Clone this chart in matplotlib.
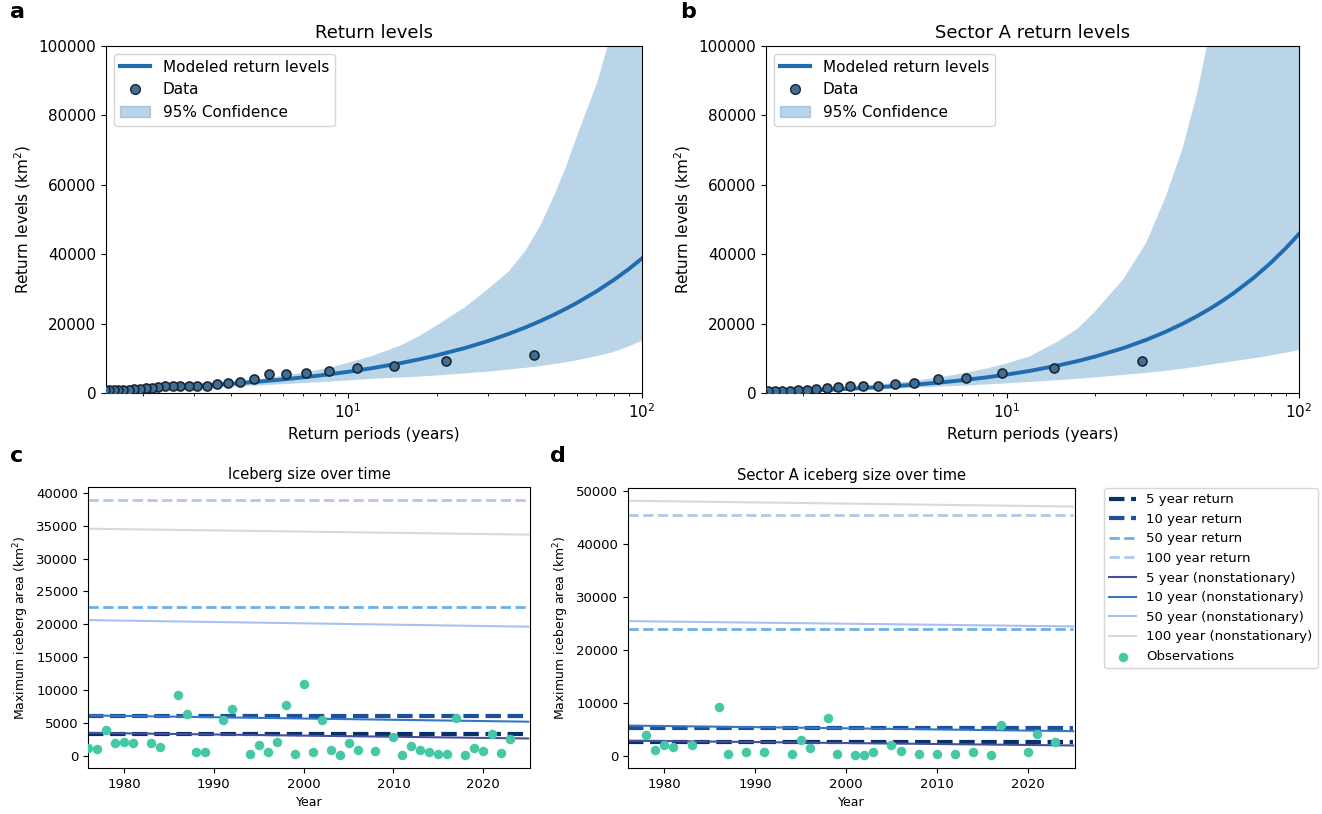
import numpy as np
import matplotlib
matplotlib.use("Agg")
import matplotlib.pyplot as plt
from matplotlib.lines import Line2D
from matplotlib.patches import Patch

# annual maximum iceberg area, all sectors
years_all = [1976, 1977, 1978, 1979, 1980, 1981, 1983, 1984, 1986, 1987, 1988, 1989,
             1991, 1992, 1994, 1995, 1996, 1997, 1998, 1999, 2000, 2001, 2002, 2003,
             2004, 2005, 2006, 2008, 2010, 2011, 2012, 2013, 2014, 2015, 2016, 2017,
             2018, 2019, 2020, 2021, 2022, 2023]
area_all = [1200, 1000, 3900, 2000, 2100, 1900, 2000, 1300, 9200, 6400, 600, 600,
            5400, 7200, 250, 1700, 600, 2100, 7700, 250, 10900, 650, 5400, 900,
            100, 1900, 850, 750, 2900, 100, 1500, 850, 600, 350, 350, 5700,
            100, 1200, 750, 3300, 500, 2500]

# sector A
years_a = [1978, 1979, 1980, 1981, 1983, 1986, 1987, 1989, 1991, 1994, 1995, 1996,
           1998, 1999, 2001, 2002, 2003, 2005, 2006, 2008, 2010, 2012, 2014, 2016,
           2017, 2020, 2021, 2023]
area_a = [3900, 1100, 2000, 1700, 2000, 9200, 400, 700, 700, 300, 2900, 1500,
          7100, 350, 100, 100, 800, 2000, 850, 350, 350, 250, 700, 100,
          5800, 700, 4200, 2600]

# modeled return levels and 95% confidence bounds
T_model = [1.5, 2, 2.5, 3, 4, 5, 6, 7, 8.5, 10, 12, 15, 17.5, 20, 25, 30,
           35, 40, 45, 50, 55, 60, 70, 80, 90, 100]
rl_all = [770, 1220, 1610, 1980, 2670, 3300, 3910, 4490, 5310, 6110, 7120, 8570, 9720, 10840, 12970, 15010,
          16970, 18860, 20710, 22500, 24250, 25960, 29300, 32530, 35660, 38800]
lo_all = [550, 900, 1200, 1500, 1950, 2350, 2700, 3000, 3400, 3800, 4200, 4600, 4900, 5200, 5800, 6300,
          6900, 7400, 7900, 8500, 9000, 9600, 10800, 12000, 13600, 15300]
hi_all = [1000, 1500, 2000, 2450, 3400, 4200, 5100, 6000, 7300, 8900, 10800, 13800, 16700, 19700, 25000, 30300,
          35100, 41200, 48500, 57000, 65500, 74500, 89500, 106500, 123000, 142000]

rl_a = [250, 610, 950, 1280, 1900, 2500, 3080, 3650, 4490, 5310, 6380, 7940, 9210, 10470, 12920, 15310,
        17660, 19970, 22240, 24480, 26700, 28890, 33210, 37490, 41690, 45840]
lo_a = [150, 400, 620, 850, 1200, 1550, 1850, 2100, 2450, 2800, 3200, 3700, 4100, 4500, 5200, 5800,
        6400, 7000, 7600, 8200, 8700, 9200, 10000, 10800, 11600, 12400]
hi_a = [450, 950, 1400, 1900, 2800, 3700, 4600, 5600, 7000, 8500, 10600, 14900, 18600, 23400, 32700, 43300,
        56600, 70600, 87000, 106000, 128000, 150000, 195000, 240000, 290000, 340000]

# stationary / nonstationary return levels (start 1976, end 2025)
rp_names = ["5 year", "10 year", "50 year", "100 year"]
line_years = [1976, 2025]
stat_c = [3350, 6120, 22600, 38950]
ns_c_start = [3500, 6150, 20650, 34550]
ns_c_end = [2650, 5200, 19650, 33650]
stat_d = [2550, 5300, 24000, 45400]
ns_d_start = [2850, 5700, 25400, 48100]
ns_d_end = [1950, 4650, 24400, 47000]

dash_cols = ["#08306b", "#1c4f9c", "#6fb0e4", "#b3c7ea"]
dash_lw = [3, 3, 2, 2]
ns_cols = ["#464f9e", "#3477c4", "#a9c0f2", "#d3dae4"]
obs_col = "#45c8a6"

fig = plt.figure(figsize=(13.22, 8.14), dpi=100)
W, H = 1322, 814


def box(l, t, r, b):
    return [l / W, 1 - b / H, (r - l) / W, (b - t) / H]


def return_panel(ax, areas, rl, lo, hi, title):
    vals = np.sort(np.array(areas))[::-1]
    n = len(vals)
    periods = (n + 1) / np.arange(1, n + 1)
    ax.fill_between(T_model, lo, hi, color="C0", alpha=0.3, lw=0)
    ax.plot(T_model, rl, color="#1f6db0", lw=2.8)
    ax.scatter(periods, vals, s=42, color="#3f6f96", edgecolor="#1a2633", lw=1.2, zorder=3)
    ax.set_xscale("log")
    ax.set_xlim(1.5, 100)
    ax.set_ylim(0, 100000)
    ax.set_title(title, fontsize=13)
    ax.set_xlabel("Return periods (years)", fontsize=11)
    ax.set_ylabel("Return levels (km$^2$)", fontsize=11)
    ax.tick_params(labelsize=11)
    handles = [Line2D([], [], color="#1f6db0", lw=3),
               Line2D([], [], ls="", marker="o", ms=7, mfc="#3f6f96", mec="#1a2633"),
               Patch(color="C0", alpha=0.3)]
    ax.legend(handles, ["Modeled return levels", "Data", "95% Confidence"],
              loc="upper left", fontsize=11)


def time_panel(ax, years, areas, stat, ns0, ns1, title):
    for i in range(4):
        ax.plot(line_years, [stat[i], stat[i]], ls="--", color=dash_cols[i], lw=dash_lw[i],
                label=rp_names[i] + " return")
    for i in range(4):
        ax.plot(line_years, [ns0[i], ns1[i]], color=ns_cols[i], lw=1.5,
                label=rp_names[i] + " (nonstationary)")
    ax.scatter(years, areas, s=34, color=obs_col, marker="o", zorder=4, label="Observations")
    ax.set_xlim(1976, 2025.2)
    ax.set_title(title, fontsize=10.5)
    ax.set_xlabel("Year", fontsize=9)
    ax.set_ylabel("Maximum iceberg area (km$^2$)", fontsize=9)
    ax.tick_params(labelsize=9.5)


ax_a = fig.add_axes(box(106, 46, 642, 393))
return_panel(ax_a, area_all, rl_all, lo_all, hi_all, "Return levels")
ax_b = fig.add_axes(box(766, 46, 1299, 393))
return_panel(ax_b, area_a, rl_a, lo_a, hi_a, "Sector A return levels")

ax_c = fig.add_axes(box(88, 487, 530, 768))
time_panel(ax_c, years_all, area_all, stat_c, ns_c_start, ns_c_end, "Iceberg size over time")
ax_d = fig.add_axes(box(628, 488, 1075, 768))
time_panel(ax_d, years_a, area_a, stat_d, ns_d_start, ns_d_end, "Sector A iceberg size over time")
ax_d.legend(loc="upper left", bbox_to_anchor=(1.065, 1.0), borderaxespad=0, fontsize=9.5)

for lab, x, y in [("a", 10, 2), ("b", 680, 2), ("c", 10, 446), ("d", 550, 446)]:
    fig.text(x / W, 1 - y / H, lab, fontsize=16, fontweight="bold", va="top")

fig.savefig("out.png", dpi=100)
